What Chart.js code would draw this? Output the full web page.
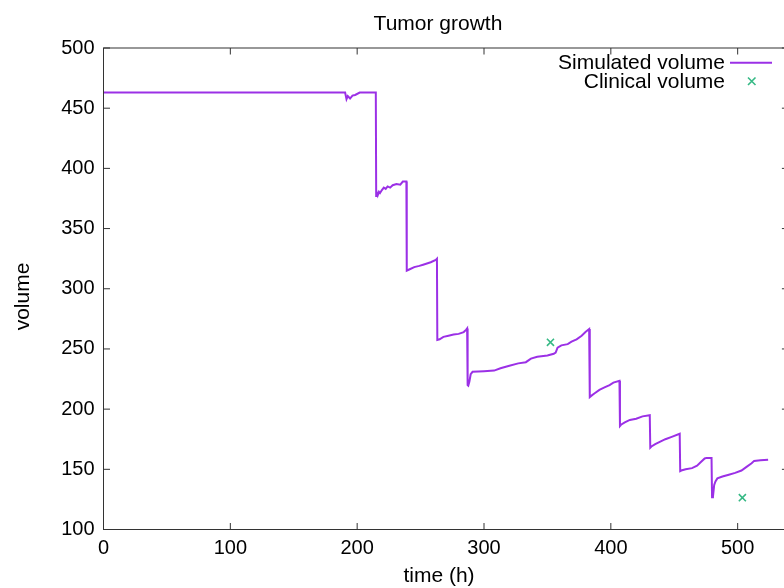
<!DOCTYPE html>
<html>
<head>
<meta charset="utf-8">
<script src="https://cdn.jsdelivr.net/npm/chart.js@4/dist/chart.umd.min.js"></script>
<style>
  html, body { margin: 0; padding: 0; background: #fff; overflow: hidden; }
  #tumorChart { display: block; }
</style>
</head>
<body>
<canvas id="tumorChart" width="795" height="588"></canvas>
<script>
const simTime = [0, 190.5, 191.6, 192.6, 194.4, 196.3, 198.4, 202, 214.7,
  215.0, 215.6, 216.2, 217.2, 218, 219.5, 221, 222.5, 224, 226, 228, 231, 234, 236, 238.8,
  239.1, 241, 245, 249, 252, 255, 258, 262, 262.9,
  263.2, 265, 268, 272, 276, 280, 284, 286, 286.7,
  287.1, 287.6, 288.5, 289.5, 291, 300, 308, 313, 320, 327, 333, 337, 342, 350, 355, 356.5, 358, 361, 366, 369, 373, 377, 380, 382.9,
  383.4, 384.5, 387, 391, 395, 399, 402, 406.8,
  407.2, 408, 411, 415, 420, 425, 430.7,
  431.1, 432, 435, 439, 443, 448, 454.3,
  454.7, 455.5, 459, 464, 468, 471, 474, 475.5, 479.4,
  479.8, 480.5, 481.5, 482.5, 484, 488, 493, 498, 503, 507, 511, 513, 518, 524];
const simVolume = [463, 463, 457.5, 460, 458, 460.5, 461, 463, 463,
  377, 379.5, 377.5, 380.5, 379.5, 382, 384, 383, 385, 384, 386, 387, 386.5, 389, 389,
  315, 316, 318, 319, 320, 321, 322, 324, 325,
  257.5, 258, 260, 261, 262, 262.5, 264, 266, 267,
  220, 219.5, 223, 229, 231, 231.5, 232, 234, 236, 238, 239, 242, 243.5, 244.5, 246, 247, 251, 253, 254, 256, 258, 261, 264, 266.5,
  210, 211, 213, 216, 218, 220, 222, 223.5,
  186, 187, 189, 191, 192, 194, 195,
  168, 169, 171, 173, 175, 177, 179.5,
  148.5, 149, 150, 151, 153, 156, 159, 159.5, 159.5,
  126.7, 127, 137, 140, 142.5, 144, 145.5, 147, 149, 152, 155, 157, 157.5, 158];
const clinicalTime = [352.4, 503.7];
const clinicalVolume = [255.5, 126.4];
const xTicksStep = 100;
const yTicksStep = 50;

const simColor = '#9b30e6';
const clinicalColor = '#36b985';
const frameColor = '#333333';
const fontFamily = '"Liberation Sans", Arial, Helvetica, sans-serif';

// gnuplot-like frame: full border with inward ticks on all four sides, titles and key
const gnuplotFrame = {
  id: 'gnuplotFrame',
  afterDatasetsDraw(chart) {
    const {ctx, chartArea: area, scales} = chart;
    const tickLen = 6.5;
    ctx.save();
    ctx.strokeStyle = frameColor;
    ctx.lineWidth = 1;
    ctx.strokeRect(area.left, area.top, area.right - area.left, area.bottom - area.top);
    ctx.beginPath();
    scales.x.ticks.forEach(t => {
      const px = scales.x.getPixelForValue(t.value);
      ctx.moveTo(px, area.bottom); ctx.lineTo(px, area.bottom - tickLen);
      ctx.moveTo(px, area.top); ctx.lineTo(px, area.top + tickLen);
    });
    scales.y.ticks.forEach(t => {
      const py = scales.y.getPixelForValue(t.value);
      ctx.moveTo(area.left, py); ctx.lineTo(area.left + tickLen, py);
      ctx.moveTo(area.right, py); ctx.lineTo(area.right - tickLen, py);
    });
    ctx.stroke();

    ctx.fillStyle = '#000';
    ctx.font = '21px ' + fontFamily;
    ctx.textBaseline = 'alphabetic';
    ctx.textAlign = 'center';
    ctx.fillText('Tumor growth', 438, 30);
    ctx.fillText('time (h)', 439, 582);
    ctx.save();
    ctx.translate(28.5, 296.5);
    ctx.rotate(-Math.PI / 2);
    ctx.fillText('volume', 0, 0);
    ctx.restore();

    // key
    ctx.textAlign = 'right';
    ctx.fillText(chart.data.datasets[0].label, 725, 69);
    ctx.fillText(chart.data.datasets[1].label, 725, 87.5);
    ctx.strokeStyle = simColor;
    ctx.lineWidth = 2;
    ctx.beginPath();
    ctx.moveTo(730, 62.8); ctx.lineTo(772, 62.8);
    ctx.stroke();
    ctx.strokeStyle = clinicalColor;
    ctx.lineWidth = 1.6;
    ctx.beginPath();
    ctx.moveTo(748, 77.5); ctx.lineTo(755.5, 85);
    ctx.moveTo(755.5, 77.5); ctx.lineTo(748, 85);
    ctx.stroke();
    ctx.restore();
  }
};

new Chart(document.getElementById('tumorChart'), {
  type: 'scatter',
  data: {
    datasets: [{
      label: 'Simulated volume',
      data: simTime.map((t, i) => ({x: t, y: simVolume[i]})),
      showLine: true,
      borderColor: simColor,
      borderWidth: 2,
      pointRadius: 0,
      tension: 0,
      fill: false
    }, {
      label: 'Clinical volume',
      data: clinicalTime.map((t, i) => ({x: t, y: clinicalVolume[i]})),
      showLine: false,
      pointStyle: 'crossRot',
      pointRadius: 5,
      borderColor: clinicalColor,
      backgroundColor: clinicalColor,
      borderWidth: 1.6
    }]
  },
  options: {
    responsive: false,
    animation: false,
    layout: {padding: {top: 48, right: 0, left: 0, bottom: 0}},
    plugins: {
      legend: {display: false},
      title: {display: false},
      tooltip: {enabled: false}
    },
    scales: {
      x: {
        type: 'linear',
        min: 0,
        max: 540,
        afterFit: scale => { scale.height = 58.5; },
        grid: {display: false, drawTicks: false},
        border: {display: false},
        ticks: {
          stepSize: xTicksStep,
          includeBounds: false,
          maxRotation: 0,
          padding: 7,
          color: '#000',
          font: {family: fontFamily, size: 20}
        }
      },
      y: {
        type: 'linear',
        min: 100,
        max: 500,
        afterFit: scale => { scale.width = 103.5; },
        grid: {display: false, drawTicks: false},
        border: {display: false},
        ticks: {
          stepSize: yTicksStep,
          padding: 9,
          color: '#000',
          font: {family: fontFamily, size: 20}
        }
      }
    }
  },
  plugins: [gnuplotFrame]
});
</script>
</body>
</html>
